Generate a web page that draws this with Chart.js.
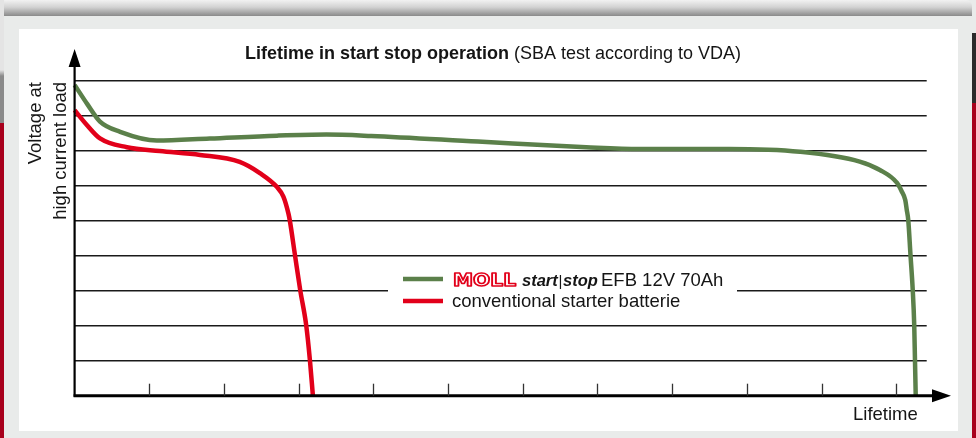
<!DOCTYPE html>
<html>
<head>
<meta charset="utf-8">
<script src="https://cdn.jsdelivr.net/npm/chart.js@4"></script>
<style>
  html, body { margin: 0; padding: 0; }
  body { width: 976px; height: 438px; overflow: hidden; position: relative; background: #e9ebea; font-family: "Liberation Sans", Arial, sans-serif; }
  .shade { position: absolute; left: 4px; top: 0; width: 968px; height: 16px; background: linear-gradient(to bottom, #f2f2f2 0%, #d2d2d2 45%, #8a8a8a 100%); border-radius: 0 6px 0 0; }
  .leftbar { position: absolute; left: 0; top: 0; width: 4px; height: 438px; background: linear-gradient(to bottom, #e4e4e4 0px, #e4e4e4 70px, #8a8a8a 76px, #8a8a8a 123px, #a8001c 123px); }
  .rightbar { position: absolute; right: 0; top: 0; width: 4px; height: 438px; background: linear-gradient(to bottom, #e9ebea 0px, #e9ebea 33px, #2b2b2b 33px, #2b2b2b 103px, #a8001c 103px); }
  .panel { position: absolute; left: 19px; top: 29px; width: 939px; height: 402px; background: #fff; }
  #wrap { position: absolute; left: 0; top: 0; width: 976px; height: 438px; }
</style>
</head>
<body>
<div class="shade"></div>
<div class="leftbar"></div>
<div class="rightbar"></div>
<div class="panel"></div>
<div id="wrap"><canvas id="chart" width="976" height="438"></canvas></div>
<script>
// lifetime (tick units) and voltage (grid units)
const mollX = [0, 0.17, 0.34, 0.61, 1.10, 1.81, 2.71, 3.37, 3.97, 5.40, 6.85, 7.56, 8.76, 9.71, 10.51, 10.78, 11.01, 11.07, 11.12, 11.14, 11.16, 11.19, 11.22, 11.24, 11.25, 11.26];
const mollY = [8.88, 8.33, 7.83, 7.54, 7.29, 7.35, 7.43, 7.46, 7.42, 7.26, 7.10, 7.05, 7.05, 6.97, 6.69, 6.45, 6.08, 5.85, 5.59, 5.31, 5.02, 4.02, 3.02, 2.02, 1.02, 0];
const convX = [0, 0.17, 0.34, 0.70, 1.14, 1.68, 2.21, 2.48, 2.71, 2.795, 2.862, 2.88, 2.95, 3.02, 3.10, 3.15, 3.19];
const convY = [8.16, 7.72, 7.35, 7.10, 6.99, 6.88, 6.68, 6.36, 5.96, 5.69, 5.21, 5.02, 4.02, 3.02, 2.02, 1.02, 0];
const xTicks = [1, 2, 3, 4, 5, 6, 7, 8, 9, 10, 11];
const seriesNames = ['MOLL start|stop EFB 12V 70Ah', 'conventional starter batterie'];

const GREEN = '#5b804a';
const RED = '#e2001a';
const INK = '#151515';
const FONT = '"Liberation Sans", Arial, sans-serif';

const toPts = (xs, ys) => xs.map((x, i) => ({ x, y: ys[i] }));

const decor = {
  id: 'decor',
  afterDatasetsDraw(chart) {
    const { ctx, chartArea: a, scales: { x } } = chart;
    const x0 = a.left, y0 = a.bottom;
    ctx.save();

    // legend box
    ctx.fillStyle = '#fff';
    ctx.fillRect(388, 266, 349, 46);
    ctx.lineCap = 'butt';
    ctx.lineWidth = 4.5;
    ctx.strokeStyle = GREEN;
    ctx.beginPath(); ctx.moveTo(403, 279); ctx.lineTo(443, 279); ctx.stroke();
    ctx.strokeStyle = RED;
    ctx.beginPath(); ctx.moveTo(403, 301); ctx.lineTo(443, 301); ctx.stroke();

    // MOLL logo as outlined letters
    ctx.save();
    ctx.font = 'bold 17px "DejaVu Sans", sans-serif';
    const mw = ctx.measureText('MOLL').width;
    ctx.translate(453, 286);
    ctx.scale(63 / mw, 1);
    ctx.strokeStyle = RED;
    ctx.lineWidth = 1.6;
    ctx.lineJoin = 'round';
    ctx.strokeText('MOLL', 0, 0);
    ctx.restore();

    ctx.fillStyle = INK;
    ctx.textBaseline = 'alphabetic';
    ctx.textAlign = 'left';
    ctx.font = 'italic bold 16.5px ' + FONT;
    ctx.fillText('start', 522, 286);
    ctx.font = '15px ' + FONT;
    ctx.fillText('|', 558.5, 286);
    ctx.font = 'italic bold 16.5px ' + FONT;
    ctx.fillText('stop', 563, 286);
    ctx.font = '18.5px ' + FONT;
    ctx.fillText('EFB 12V 70Ah', 601, 286);
    ctx.fillText(seriesNames[1], 452, 307);

    // axes with arrows
    ctx.strokeStyle = '#000';
    ctx.fillStyle = '#000';
    ctx.lineWidth = 2.2;
    ctx.beginPath(); ctx.moveTo(x0, y0 + 1); ctx.lineTo(x0, 64); ctx.stroke();
    ctx.beginPath(); ctx.moveTo(x0, 49); ctx.lineTo(x0 + 6, 67); ctx.lineTo(x0 - 6, 67); ctx.closePath(); ctx.fill();
    ctx.lineWidth = 3;
    ctx.beginPath(); ctx.moveTo(x0 - 1, y0); ctx.lineTo(935, y0); ctx.stroke();
    ctx.beginPath(); ctx.moveTo(951, y0); ctx.lineTo(932, y0 - 6.5); ctx.lineTo(932, y0 + 6.5); ctx.closePath(); ctx.fill();

    // small ticks on the lifetime axis
    ctx.lineWidth = 1.3;
    ctx.strokeStyle = '#333';
    xTicks.forEach(v => {
      const px = Math.round(x.getPixelForValue(v)) + 0.5;
      ctx.beginPath(); ctx.moveTo(px, y0 - 12); ctx.lineTo(px, y0); ctx.stroke();
    });

    // title
    ctx.fillStyle = INK;
    ctx.font = 'bold 18px ' + FONT;
    const t1 = 'Lifetime in start stop operation';
    const w1 = ctx.measureText(t1 + ' ').width;
    ctx.font = '18px ' + FONT;
    const t2 = '(SBA test according to VDA)';
    const w2 = ctx.measureText(t2).width;
    const tx = 493 - (w1 + w2) / 2;
    ctx.font = 'bold 18px ' + FONT;
    ctx.fillText(t1, tx, 59);
    ctx.font = '18px ' + FONT;
    ctx.fillText(t2, tx + w1, 59);

    // axis titles
    ctx.font = '18.5px ' + FONT;
    ctx.fillText('Lifetime', 853, 420);
    ctx.textAlign = 'right';
    [['Voltage at', 41], ['high current load', 66]].forEach(([s, bx]) => {
      ctx.save();
      ctx.translate(bx, 82);
      ctx.rotate(-Math.PI / 2);
      ctx.fillText(s, 0, 0);
      ctx.restore();
    });
    ctx.restore();
  }
};

new Chart(document.getElementById('chart'), {
  type: 'line',
  data: {
    datasets: [
      { label: seriesNames[0], data: toPts(mollX, mollY), borderColor: GREEN, borderWidth: 4.5, pointRadius: 0, cubicInterpolationMode: 'monotone', clip: false },
      { label: seriesNames[1], data: toPts(convX, convY), borderColor: RED, borderWidth: 4.5, pointRadius: 0, cubicInterpolationMode: 'monotone', clip: false }
    ]
  },
  options: {
    responsive: false,
    animation: false,
    events: [],
    layout: { padding: { left: 74.6, top: 80.7, right: 49.3, bottom: 42.3 } },
    plugins: { legend: { display: false }, title: { display: false }, tooltip: { enabled: false } },
    scales: {
      x: {
        type: 'linear', min: 0, max: 11.407,
        grid: { display: false, drawTicks: false },
        border: { display: false },
        ticks: { display: false }
      },
      y: {
        min: 0, max: 9,
        ticks: { display: false, stepSize: 1 },
        border: { display: false },
        grid: { drawTicks: false, lineWidth: 1.5, color: c => c.tick && c.tick.value === 0 ? 'rgba(0,0,0,0)' : '#1a1a1a' }
      }
    }
  },
  plugins: [decor]
});
</script>
</body>
</html>
